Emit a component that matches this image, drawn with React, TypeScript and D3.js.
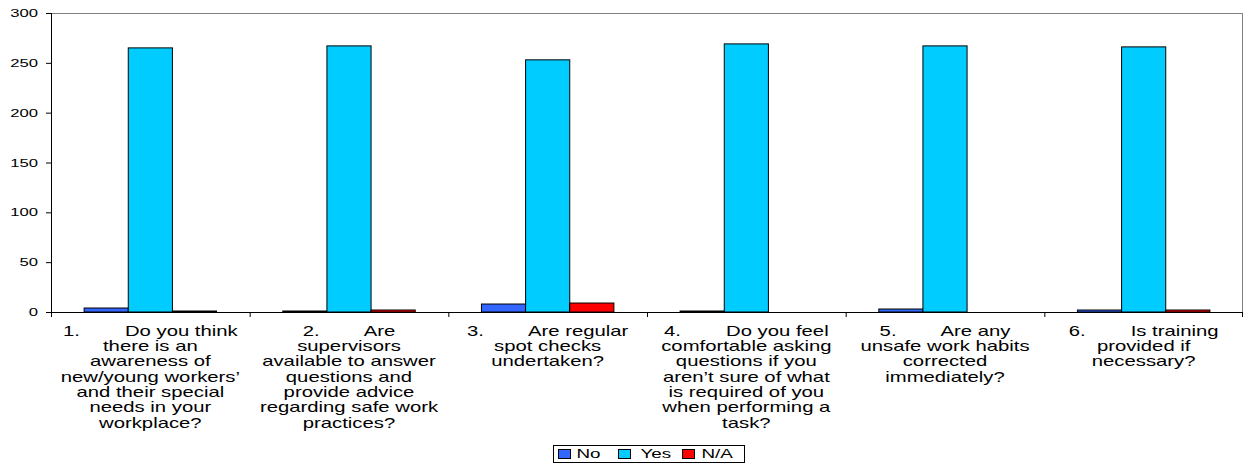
import React from "react";
import * as d3 from "d3";

const categories = ["Q1", "Q2", "Q3", "Q4", "Q5", "Q6"];
const categoryLabels: string[][] = [
  ["1.        Do you think", "there is an", "awareness of", "new/young workers\u2019", "and their special", "needs in your", "workplace?"],
  ["2.        Are", "supervisors", "available to answer", "questions and", "provide advice", "regarding safe work", "practices?"],
  ["3.        Are regular", "spot checks", "undertaken?"],
  ["4.        Do you feel", "comfortable asking", "questions if you", "aren\u2019t sure of what", "is required of you", "when performing a", "task?"],
  ["5.        Are any", "unsafe work habits", "corrected", "immediately?"],
  ["6.        Is training", "provided if", "necessary?"],
];
const seriesNames = ["No", "Yes", "N/A"];
const noValues = [4, 1, 8, 1, 3, 2];
const yesValues = [265, 267, 253, 269, 267, 266];
const naValues = [1, 2, 9, 0, 0, 2];
const seriesColors = ["#3366FF", "#00CCFF", "#FF0000"];
const yTicks = [0, 50, 100, 150, 200, 250, 300];

const W = 1244;
const H = 464;
const FONT = "'Liberation Sans', Arial, sans-serif";
const SX = 1.45;

export default function App() {
  const left = 51, right = 1243, top = 13, bottom = 312;
  const x0 = d3.scaleBand<string>().domain(categories).range([left, right]).padding(0);
  const bw = x0.bandwidth();
  const x1 = d3.scaleBand<string>().domain(seriesNames).range([bw / 6, (bw * 5) / 6]).padding(0);
  const y = d3.scaleLinear().domain([0, 300]).range([bottom, top]);
  const data = [noValues, yesValues, naValues];

  const lineH = 15.3;
  const firstBase = 335.7;

  // legend layout
  const legX = 553, legY = 445, legW = 191, legH = 17;
  const legItems = [
    { sw: 558.5, tx: 576.5 },
    { sw: 618.5, tx: 640.5 },
    { sw: 682.5, tx: 701.5 },
  ];

  return (
    <svg width={W} height={H} style={{ position: "absolute", left: 0, top: 0, background: "#fff" }}>
      {/* plot border top/right */}
      <line x1={left} y1={top + 0.5} x2={right} y2={top + 0.5} stroke="#808080" strokeWidth={1} />
      <line x1={right - 0.5} y1={top} x2={right - 0.5} y2={bottom} stroke="#808080" strokeWidth={1} />

      {/* bars */}
      {categories.map((c, i) => (
        <g key={c}>
          {seriesNames.map((s, j) => {
            const v = data[j][i];
            if (v <= 0) return null;
            const bx = (x0(c) as number) + (x1(s) as number);
            return (
              <rect
                key={s}
                x={bx}
                y={y(v)}
                width={x1.bandwidth()}
                height={bottom - y(v)}
                fill={seriesColors[j]}
                stroke="#000"
                strokeWidth={1}
              />
            );
          })}
        </g>
      ))}

      {/* y axis */}
      <line x1={left + 0.5} y1={top} x2={left + 0.5} y2={bottom} stroke="#000" strokeWidth={1} />
      {yTicks.map((t) => (
        <g key={t}>
          <line x1={left - 5} y1={y(t) + 0.5} x2={left} y2={y(t) + 0.5} stroke="#000" strokeWidth={1} />
          <text
            transform={`translate(${38},${y(t) + 4}) scale(${SX},1)`}
            textAnchor="end"
            fontFamily={FONT}
            fontSize={11.5}
            fill="#000"
          >
            {t}
          </text>
        </g>
      ))}

      {/* x axis */}
      <line x1={left} y1={bottom + 0.5} x2={right} y2={bottom + 0.5} stroke="#000" strokeWidth={1} />
      {categories.map((c) => (
        <line
          key={"t" + c}
          x1={(x0(c) as number) + 0.5}
          y1={bottom}
          x2={(x0(c) as number) + 0.5}
          y2={bottom + 5}
          stroke="#000"
          strokeWidth={1}
        />
      ))}
      <line x1={right - 0.5} y1={bottom} x2={right - 0.5} y2={bottom + 5} stroke="#000" strokeWidth={1} />

      {/* category labels */}
      {categories.map((c, i) => {
        const cx = (x0(c) as number) + bw / 2;
        return (
          <g key={"l" + c}>
            {categoryLabels[i].map((ln, k) => (
              <text
                key={k}
                transform={`translate(${cx},${firstBase + k * lineH}) scale(${SX},1)`}
                textAnchor="middle"
                fontFamily={FONT}
                fontSize={14}
                fill="#000"
                style={{ whiteSpace: "pre" }}
              >
                {ln}
              </text>
            ))}
          </g>
        );
      })}

      {/* legend */}
      <rect x={legX + 0.5} y={legY + 0.5} width={legW} height={legH} fill="#fff" stroke="#000" strokeWidth={1} />
      {seriesNames.map((s, j) => (
        <g key={"lg" + s}>
          <rect x={legItems[j].sw} y={legY + 4.5} width={12} height={9} fill={seriesColors[j]} stroke="#000" strokeWidth={1} />
          <text
            transform={`translate(${legItems[j].tx},${legY + 13}) scale(${SX},1)`}
            fontFamily={FONT}
            fontSize={13}
            fill="#000"
          >
            {s}
          </text>
        </g>
      ))}
    </svg>
  );
}
